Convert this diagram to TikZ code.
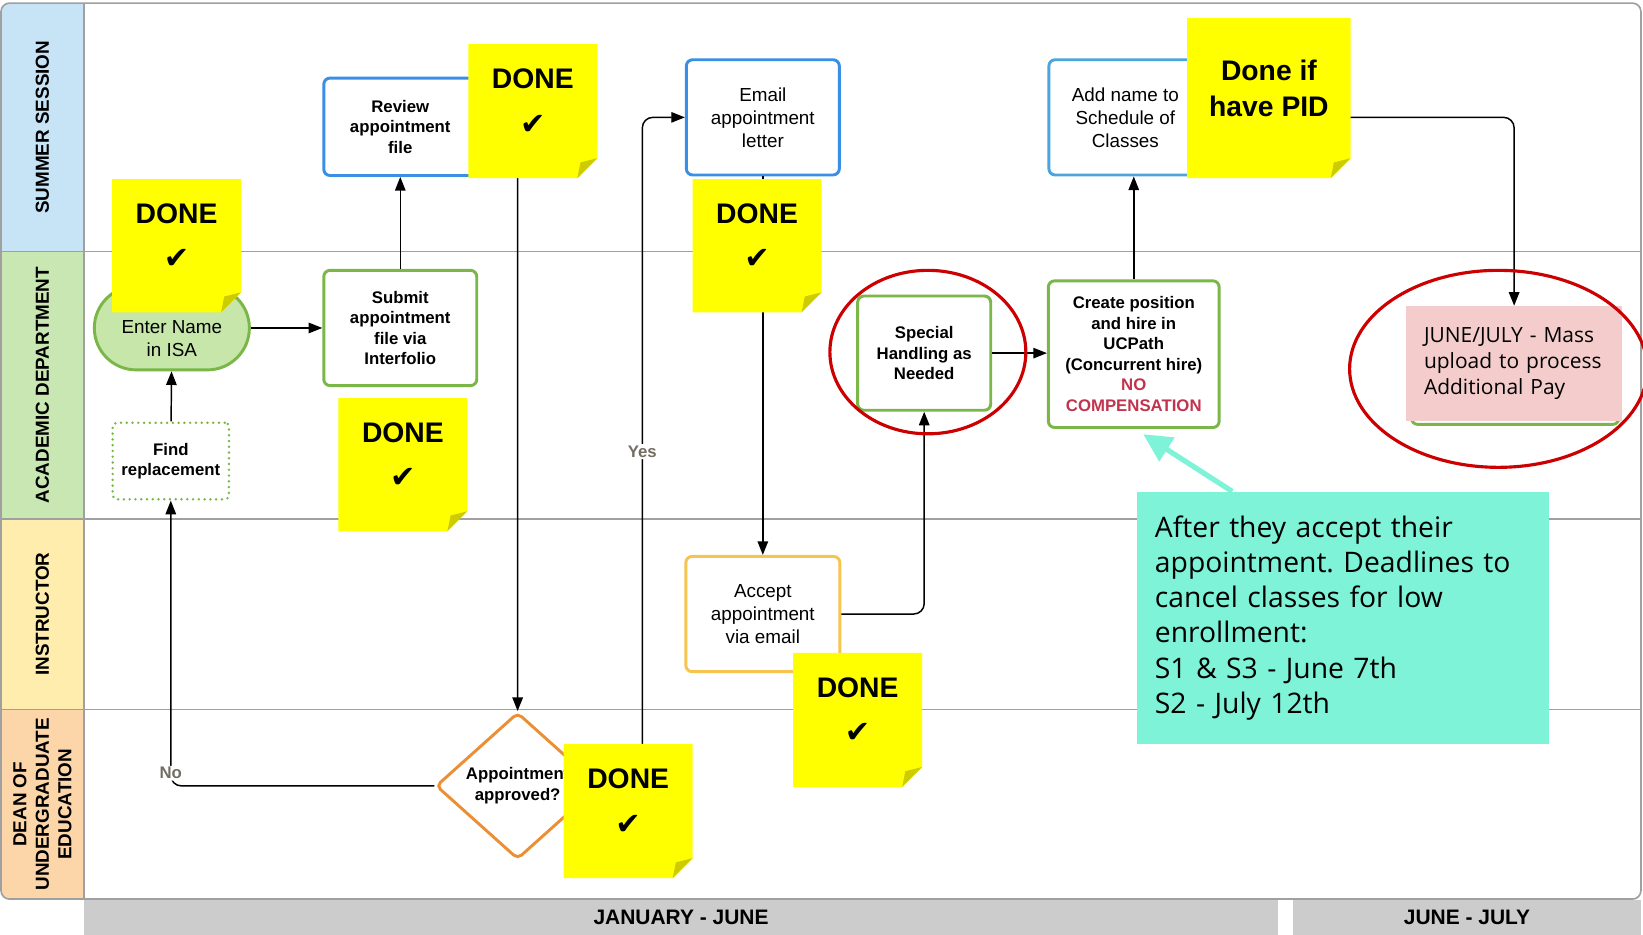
\documentclass[tikz,border=0pt]{standalone}
\usepackage{xcolor}
\usepackage{fontspec}
\setmainfont{Liberation Sans}
\newfontfamily\opensans{Open Sans}
\newfontfamily\symfont{DejaVu Sans}
\usepackage{tikz}
\usetikzlibrary{shapes.geometric, arrows.meta, positioning, calc}
\frenchspacing
\definecolor{lanesummer}{RGB}{199,228,247}
\definecolor{laneacad}{RGB}{201,231,178}
\definecolor{laneinstr}{RGB}{254,237,172}
\definecolor{lanedean}{RGB}{252,214,168}
\definecolor{framegray}{RGB}{160,160,160}
\definecolor{footgray}{RGB}{204,204,204}
\definecolor{myblue}{RGB}{57,142,230}
\definecolor{mylightblue}{RGB}{76,164,222}
\definecolor{mygreen}{RGB}{122,182,72}
\definecolor{enterfill}{RGB}{199,230,170}
\definecolor{myamber}{RGB}{246,196,79}
\definecolor{myorange}{RGB}{235,142,52}
\definecolor{ringred}{RGB}{204,0,0}
\definecolor{nored}{RGB}{194,52,78}
\definecolor{mypink}{RGB}{244,204,204}
\definecolor{myteal}{RGB}{126,243,216}
\definecolor{noteyellow}{RGB}{255,255,0}
\definecolor{notefoldc}{RGB}{204,204,0}
\definecolor{lblgray}{RGB}{115,110,100}
\tikzset{
  lanetitle/.style={rectangle, rotate=90, inner sep=0pt, align=center,
    font=\fontsize{18}{21.5}\selectfont\bfseries},
  laneline/.style={draw=framegray, line width=1.6pt},
  procbox/.style={rectangle, rounded corners=6pt, line width=2.8pt, fill=white,
    align=center, inner sep=2pt},
  bluebox/.style={procbox, draw=myblue},
  greenbox/.style={procbox, draw=mygreen},
  amberbox/.style={procbox, draw=myamber},
  boldtxt/.style={font=\fontsize{16}{19.6}\selectfont\bfseries},
  regtxt/.style={font=\fontsize{18}{22}\selectfont},
  decision/.style={diamond, draw=myorange, line width=2.8pt, fill=white, rounded corners=5pt,
    inner sep=0pt, align=center, minimum width=156pt, minimum height=140pt},
  ring/.style={ellipse, draw=ringred, line width=3pt, inner sep=0pt},
  conn/.style={draw=black, line width=1.4pt, rounded corners=10pt,
    -{Triangle[length=13pt, width=10pt]}},
  flowlbl/.style={fill=white, inner sep=1.5pt, text=lblgray,
    font=\fontsize{16}{19}\selectfont\bfseries},
  notefill/.style={fill=noteyellow},
  notefold/.style={fill=notefoldc},
  notetext/.style={align=center, inner sep=0pt, font=\fontsize{27}{43}\selectfont\bfseries},
  footbar/.style={rectangle, fill=footgray, inner sep=0pt,
    font=\fontsize{20}{22}\selectfont\bfseries}
}
\newcommand{\donetick}{{\symfont\fontsize{29}{43}\selectfont ✔}}
% sticky note: name, left, top, width, height, text
\newcommand{\stickynote}[6]{%
  \fill[notefill] (#2,#3) -- (#2+#4,#3) -- (#2+#4,#3+#5-19) -- (#2+#4-19,#3+#5) -- (#2,#3+#5) -- cycle;
  \fill[notefold] (#2+#4,#3+#5-19) -- (#2+#4-19,#3+#5) -- (#2+#4-16,#3+#5-15) -- cycle;
  \node[notetext] (#1) at (#2+#4/2,#3+#5/2-9) {#6};
}

\begin{document}
\begin{tikzpicture}[x=1pt, y=-1pt]
  \useasboundingbox (0,0) rectangle (1568,892);

  % Swimlanes
  \begin{scope}
    \clip[rounded corners=8pt] (1,3) rectangle (1566,858);
    \node[lanetitle, fill=lanesummer, minimum width=237pt, minimum height=79pt] (lsummer) at (40.5,121.5) {SUMMER SESSION};
    \node[lanetitle, fill=laneacad, minimum width=255pt, minimum height=79pt] (lacad) at (40.5,367.5) {ACADEMIC DEPARTMENT};
    \node[lanetitle, fill=laneinstr, minimum width=182pt, minimum height=79pt] (linstr) at (40.5,586) {INSTRUCTOR};
    \node[lanetitle, fill=lanedean, minimum width=181pt, minimum height=79pt] (ldean) at (40.5,767.5) {DEAN OF\\UNDERGRADUATE\\EDUCATION};
  \end{scope}
  \foreach \y in {240,495,677}
    \draw[laneline] (1,\y) -- (1566,\y);
  \draw[laneline] (80,3) -- (80,858);
  \draw[laneline, rounded corners=8pt] (1,3) rectangle (1566,858);

  % Time bars
  \node[footbar, minimum width=1140pt, minimum height=33pt] (janjune) at (650,875.5) {JANUARY - JUNE};
  \node[footbar, minimum width=332pt, minimum height=33pt] (junejuly) at (1400,875.5) {JUNE - JULY};

  % Process steps
  \node[procbox, draw=mygreen, fill=enterfill, rounded corners=40pt, regtxt,
    minimum width=148pt, minimum height=80pt] (enter) at (164,313) {\rule{0pt}{33pt}Enter Name\\in ISA};
  \node[procbox, draw=mygreen, line width=2.6pt, dash pattern=on 0pt off 5.5pt, line cap=round,
    rounded corners=4pt, boldtxt, minimum width=111pt, minimum height=73pt] (find) at (163,440) {Find\\replacement};
  \node[greenbox, boldtxt, minimum width=146pt, minimum height=110pt] (submit) at (382,313) {Submit\\appointment\\file via\\Interfolio};
  \node[bluebox, boldtxt, minimum width=146pt, minimum height=93pt] (review) at (382,121) {Review\\appointment\\file};
  \node[bluebox, regtxt, minimum width=146pt, minimum height=110pt] (email) at (728,112) {Email\\appointment\\letter};
  \node[amberbox, regtxt, minimum width=147pt, minimum height=110pt] (accept) at (728,586) {Accept\\appointment\\via email};
  \node[decision, boldtxt] (dia) at (494,750) {Appointment\\approved?};
  \node[greenbox, boldtxt, minimum width=127pt, minimum height=109pt] (special) at (882,337) {Special\\Handling as\\Needed};
  \node[greenbox, boldtxt, minimum width=163pt, minimum height=140pt] (create) at (1082,338)
    {Create position\\and hire in\\UCPath\\(Concurrent hire)\\\textcolor{nored}{NO}\\\textcolor{nored}{COMPENSATION}};
  \node[procbox, draw=mylightblue, regtxt, minimum width=146pt, minimum height=110pt] (addname) at (1074,112) {Add name to\\Schedule of\\Classes};
  \node[procbox, draw=mygreen, minimum width=198pt, minimum height=100pt] (massbase) at (1446,355) {};
  \node[rectangle, fill=mypink, inner xsep=17pt, text width=172pt, align=left,
    font=\opensans\fontsize{20}{24.5}\selectfont, minimum height=110pt] (mass) at (1445,347)
    {JUNE/JULY - Mass\\upload to process\\Additional Pay};

  % Connectors
  \draw[conn] (enter.east) -- (enter.east -| submit.west);
  \draw[conn] (submit) -- (review);
  \draw[conn] (find) -- (enter);
  \draw[conn] (review.east) -| (dia.north);
  \draw[conn] (dia.west) -| node[flowlbl, pos=0.5, yshift=12pt] (nolbl) {No} (find.south);
  \coordinate (yesbend) at (613,112);
  \draw[conn] (dia.east) -| node[flowlbl, pos=0.75] (yeslbl) {Yes} (yesbend) -- (email.west);
  \draw[conn] (email) -- (accept);
  \draw[conn] (accept.east) -| (special.south);
  \draw[conn] (special.east) -- (special.east -| create.west);
  \draw[conn] (create.north) -- (create.north |- addname.south);
  \draw[conn] (addname.east) -| (mass.north);

  % Highlight rings
  \node[ring, minimum width=187pt, minimum height=156pt] (specialring) at (885.5,336) {};
  \node[ring, minimum width=284pt, minimum height=188pt] (massring) at (1430,352) {};

  % Note on deadlines
  \node[rectangle, fill=myteal, anchor=north west, inner xsep=17pt, text width=359pt, align=left,
    minimum height=241pt, font=\opensans\fontsize{27}{33.6}\selectfont] (callout) at (1085,469)
    {After they accept their\\appointment. Deadlines to\\cancel classes for low\\enrollment:\\S1 \& S3 - June 7th\\S2 - July 12th};
  \draw[draw=myteal, line width=5pt, -{Triangle[length=27pt, width=26pt]}]
    ($(callout.north west)+(91,0)$) -- ($(create.south)+(9,5)$);

  % Sticky notes
  \stickynote{note1}{107}{171}{123}{127}{DONE\\\donetick}
  \stickynote{note2}{447}{42}{123}{128}{DONE\\\donetick}
  \stickynote{note3}{661}{171}{123}{127}{DONE\\\donetick}
  \stickynote{note4}{323}{380}{123}{127}{DONE\\\donetick}
  \stickynote{note5}{1133}{17}{156}{153}{Done if\\[-8pt]have PID}
  \stickynote{note6}{757}{623}{123}{128}{DONE\\\donetick}
  \stickynote{note7}{538}{710}{123}{128}{DONE\\\donetick}
\end{tikzpicture}
\end{document}
